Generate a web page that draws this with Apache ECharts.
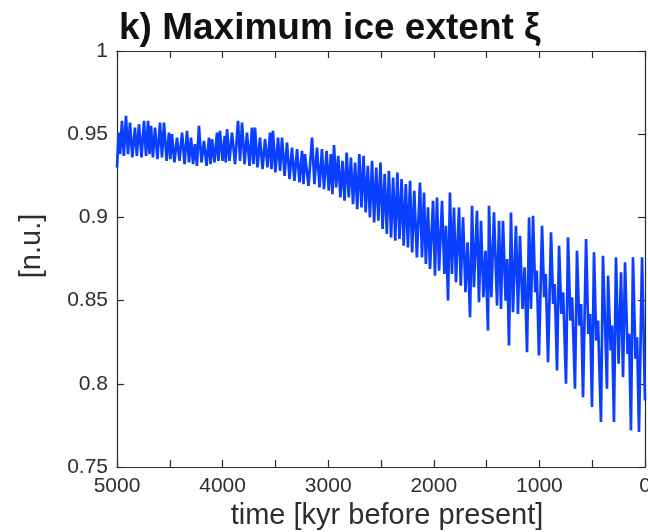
<!DOCTYPE html>
<html>
<head>
<meta charset="utf-8">
<script src="https://cdn.jsdelivr.net/npm/echarts@6/dist/echarts.min.js"></script>
<style>
html,body{margin:0;padding:0;background:#fff;overflow:hidden;}
#chart{width:648px;height:532px;}
</style>
</head>
<body>
<div id="chart"></div>
<script>
// Tick labels
var xTickValues = [5000, 4000, 3000, 2000, 1000, 0];
var yTickValues = [0.75, 0.8, 0.85, 0.9, 0.95, 1];

// Era A: 5000 - 4040 kyr BP
var ageA = [5000,4985,4970,4953,4935,4915,4896,4877,4855,4830,4812,4792,4768,4744,4725,4706,4692,4678,4660,4640,4617,4593,4574,4555,4530,4508,4494,4480,4456,4432,4408,4384,4360,4337,4318,4299,4280,4262,4243,4224,4200,4176,4152,4129,4114,4100,4077,4053,4040];
var xiA  = [0.930,0.951,0.938,0.958,0.937,0.961,0.938,0.957,0.936,0.954,0.937,0.956,0.936,0.958,0.937,0.958,0.938,0.955,0.936,0.954,0.935,0.957,0.936,0.957,0.934,0.951,0.935,0.950,0.933,0.948,0.934,0.951,0.932,0.952,0.933,0.948,0.932,0.944,0.931,0.955,0.933,0.946,0.931,0.948,0.932,0.947,0.933,0.951,0.934];

// Era B: 4025 - 3040 kyr BP
var ageB = [4025,4000,3980,3970,3958,3935,3911,3882,3854,3835,3816,3792,3769,3745,3722,3708,3693,3670,3646,3622,3598,3575,3551,3537,3523,3500,3475,3456,3437,3413,3390,3366,3343,3320,3295,3272,3248,3234,3220,3186,3153,3130,3106,3082,3059,3040];
var xiB  = [0.952,0.934,0.949,0.933,0.953,0.934,0.951,0.932,0.958,0.934,0.957,0.932,0.951,0.931,0.954,0.932,0.954,0.930,0.948,0.929,0.947,0.930,0.951,0.929,0.952,0.927,0.948,0.928,0.948,0.925,0.945,0.923,0.942,0.922,0.941,0.921,0.940,0.920,0.938,0.919,0.948,0.920,0.942,0.918,0.941,0.917];

// Era C: 3015 - 2160 kyr BP
var ageC = [3015,2995,2975,2960,2945,2925,2905,2885,2865,2845,2825,2805,2785,2765,2745,2725,2705,2685,2665,2645,2625,2605,2585,2565,2545,2525,2505,2485,2465,2445,2425,2405,2385,2365,2345,2325,2305,2285,2265,2245,2225,2205,2185,2160];
var xiC  = [0.940,0.916,0.938,0.914,0.9435,0.918,0.937,0.912,0.934,0.910,0.939,0.912,0.936,0.908,0.933,0.905,0.938,0.906,0.937,0.903,0.931,0.900,0.934,0.897,0.930,0.898,0.933,0.893,0.926,0.890,0.928,0.888,0.924,0.886,0.927,0.887,0.923,0.883,0.920,0.882,0.922,0.879,0.916,0.876];

// Era D: 2131 - 1140 kyr BP
var ageD = [2131,2112,2093,2075,2055,2036,2007,1989,1970,1950,1922,1900,1885,1865,1847,1828,1809,1790,1761,1745,1723,1700,1680,1657,1638,1620,1591,1572,1553,1530,1510,1487,1477,1455,1430,1401,1382,1364,1345,1320,1305,1288,1269,1250,1222,1203,1184,1160,1140];
var xiD  = [0.921,0.876,0.915,0.872,0.906,0.869,0.910,0.865,0.912,0.868,0.910,0.866,0.895,0.850,0.915,0.866,0.906,0.861,0.906,0.859,0.900,0.855,0.885,0.840,0.907,0.858,0.904,0.849,0.898,0.852,0.880,0.832,0.907,0.852,0.903,0.847,0.898,0.845,0.898,0.850,0.875,0.823,0.903,0.843,0.895,0.842,0.889,0.845,0.870];

// Era E: 1117 - 0 kyr BP
var ageE = [1117,1098,1080,1060,1040,1025,1004,975,955,940,918,890,870,855,833,814,792,775,748,729,707,690,663,644,622,605,587,558,537,520,502,483,462,445,417,398,360,350,325,312,294,275,250,227,208,189,165,150,133,114,90,75,57,28,0];
var xiE  = [0.819,0.900,0.845,0.901,0.855,0.868,0.817,0.895,0.852,0.866,0.813,0.891,0.848,0.860,0.808,0.883,0.842,0.855,0.800,0.888,0.838,0.852,0.797,0.880,0.835,0.848,0.792,0.887,0.830,0.842,0.786,0.879,0.826,0.838,0.777,0.877,0.797,0.865,0.820,0.835,0.777,0.876,0.812,0.867,0.804,0.873,0.818,0.830,0.772,0.876,0.815,0.828,0.771,0.876,0.790];

var ages = [].concat(ageA, ageB, ageC, ageD, ageE);
var xis = [].concat(xiA, xiB, xiC, xiD, xiE);
var seriesData = ages.map(function (t, i) { return [t, xis[i]]; });

var FONT = '"Liberation Sans", Arial, Helvetica, sans-serif';
var AX = '#2b2b2b';
var TXT = '#2e2e2e';

function xAx(pos, labels) {
  return {
    type: 'value', inverse: true, min: 0, max: 5000, interval: 500, position: pos,
    axisLine: { show: true, onZero: false, lineStyle: { color: AX, width: 1.2 } },
    axisTick: { show: true, inside: true, length: 7, lineStyle: { color: AX, width: 1.2 } },
    splitLine: { show: false },
    axisLabel: {
      show: labels, margin: 9, fontSize: 21, color: TXT, fontFamily: FONT,
      formatter: function (v) { return xTickValues.indexOf(v) >= 0 ? String(v) : ''; }
    },
    name: labels ? 'time [kyr before present]' : '',
    nameLocation: 'middle', nameGap: 34,
    nameTextStyle: { fontSize: 29, color: TXT, fontFamily: FONT, padding: [0, 0, 0, 12] }
  };
}
function yAx(pos, labels) {
  return {
    type: 'value', min: 0.75, max: 1, interval: 0.05, position: pos,
    axisLine: { show: true, onZero: false, lineStyle: { color: AX, width: 1.2 } },
    axisTick: { show: true, inside: true, length: 7, lineStyle: { color: AX, width: 1.2 } },
    splitLine: { show: false },
    axisLabel: {
      show: labels, margin: 9, fontSize: 21, color: TXT, fontFamily: FONT,
      formatter: function (v) {
        var r = Math.round(v * 100) / 100;
        return yTickValues.indexOf(r) >= 0 ? String(r) : '';
      }
    },
    name: labels ? '[n.u.]' : '',
    nameLocation: 'middle', nameGap: 71, nameRotate: 90,
    nameTextStyle: { fontSize: 29, color: TXT, fontFamily: FONT, padding: [0, 0, 0, 26] }
  };
}

var chart = echarts.init(document.getElementById('chart'), null, { renderer: 'canvas', width: 648, height: 532 });
chart.setOption({
  animation: false,
  backgroundColor: '#ffffff',
  title: {
    text: 'k) Maximum ice extent ξ',
    left: 114, top: 5,
    textStyle: { fontSize: 37, fontWeight: 'bold', color: '#111111', fontFamily: FONT }
  },
  grid: { left: 117, right: 3, top: 51, bottom: 65, containLabel: false, outerBoundsMode: 'none' },
  xAxis: [xAx('bottom', true), xAx('top', false)],
  yAxis: [yAx('left', true), yAx('right', false)],
  series: [{
    type: 'line',
    xAxisIndex: 0, yAxisIndex: 0,
    data: seriesData,
    showSymbol: false,
    symbol: 'none',
    clip: true,
    lineStyle: { color: '#0a3fff', width: 2.7 },
    itemStyle: { color: '#0a3fff' }
  }]
});
</script>
</body>
</html>
